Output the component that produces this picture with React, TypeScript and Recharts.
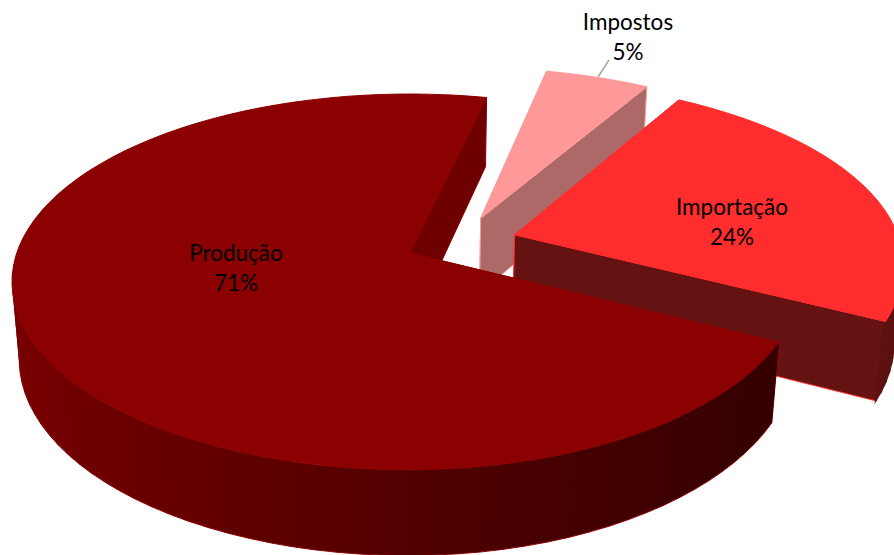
import React from 'react'
import { PieChart, Pie, Cell } from 'recharts'

const names = ['Impostos', 'Importação', 'Produção']
const shares = [5, 24, 71]
const fills = ['#ff9999', '#ff2d2d', '#8b0000']
const wallShades = [0.68, 0.396, 0.79]

const data = names.map((name, i) => ({ name, value: shares[i] }))

// perspective fitted on the reference: unit circle -> screen
const RX = 393
const RY = 183.5
const TILT = 0.1543
const DEPTH = 78
const DEPTH_W = 0.018
const EXPLODE = 0.145
const OFFSET_U = 0.131
const OFFSET_V = 0.061

const RAD = Math.PI / 180

const labelSpots: Record<string, [number, number]> = {
  Impostos: [628, 30],
  Importação: [732, 215],
  Produção: [236, 261],
}

function shade(hex: string, f: number) {
  const n = parseInt(hex.slice(1), 16)
  const r = Math.round(((n >> 16) & 255) * f)
  const g = Math.round(((n >> 8) & 255) * f)
  const b = Math.round((n & 255) * f)
  return `rgb(${r},${g},${b})`
}

function Slice3D(props: any) {
  const { cx, cy, startAngle, endAngle, midAngle, fill, index } = props
  const mid = midAngle * RAD
  const centerU = OFFSET_U + EXPLODE * Math.cos(mid)
  const centerV = OFFSET_V + EXPLODE * Math.sin(mid)

  const project = (u: number, v: number, z: number) => {
    const w = 1 + TILT * v + DEPTH_W * z
    return [cx + (RX * u) / w, cy + (-RY * v + DEPTH * z) / w]
  }
  const rimPoint = (deg: number, z: number) => {
    // the reference's rim runs a little short towards the lower right
    const bump = Math.max(0, Math.cos((deg + 27) * RAD))
    const r = 1 - 0.016 * bump ** 4
    return project(centerU + r * Math.cos(deg * RAD), centerV + r * Math.sin(deg * RAD), z)
  }
  const toPath = (pts: number[][], close = true) =>
    'M' + pts.map((p) => `${p[0].toFixed(1)},${p[1].toFixed(1)}`).join('L') + (close ? 'Z' : '')

  const steps = Math.max(2, Math.ceil(Math.abs(endAngle - startAngle) / 3))
  const angles: number[] = []
  for (let i = 0; i <= steps; i++) {
    angles.push(startAngle + ((endAngle - startAngle) * i) / steps)
  }
  const isFront = (deg: number) => Math.sin(deg * RAD) < 0

  const wallFill = shade(fill, wallShades[index])
  const apexTop = project(centerU, centerV, 0)
  const apexLow = project(centerU, centerV, 1)
  const wall = (deg: number) =>
    toPath([apexTop, rimPoint(deg, 0), rimPoint(deg, 1), apexLow])

  // only the part of the rim that faces the viewer, each band runs under the next
  const quads = angles
    .slice(1)
    .map((deg, i) => {
      const prev = angles[i]
      const u = Math.cos(((deg + prev) / 2) * RAD)
      const f = u < 0 ? 0.58 - 0.29 * u : 0.58 - 0.235 * u
      const over = deg + (endAngle < startAngle ? -1 : 1)
      return {
        front: isFront((deg + prev) / 2),
        d: toPath([rimPoint(prev, 0), rimPoint(over, 0), rimPoint(over, 1), rimPoint(prev, 1)]),
        color: shade(fill, f),
      }
    })
    .filter((q) => q.front)

  return (
    <g>
      <path d={wall(startAngle)} fill={wallFill} stroke={fill} strokeWidth={1} />
      <path d={wall(endAngle)} fill={wallFill} stroke={fill} strokeWidth={1} />
      {quads.map((q, i) => (
        <path key={i} d={q.d} fill={q.color} />
      ))}
      {index === 2 && (
        <path
          d={toPath(angles.filter(isFront).map((a) => rimPoint(a, 1)), false)}
          fill='none'
          stroke={fill}
          strokeWidth={1}
        />
      )}
      <path
        d={toPath([apexTop, ...angles.map((a) => rimPoint(a, 0))])}
        fill={fill}
        stroke={fill}
        strokeWidth={1}
      />
    </g>
  )
}

function SliceLabel(props: any) {
  const { name, value } = props
  const [x, y] = labelSpots[name]
  return (
    <g>
      {name === 'Impostos' && (
        <line x1={609} y1={60} x2={598} y2={77} stroke='#a6a6a6' strokeWidth={1.5} />
      )}
      <text x={x} y={y} textAnchor='middle' fontFamily='Lato' fontSize={22.5} fill='#000'>
        {name}
      </text>
      <text x={x} y={y + 30} textAnchor='middle' fontFamily='Lato' fontSize={22.5} fill='#000'>
        {`${value}%`}
      </text>
    </g>
  )
}

export default function App() {
  return (
    <div style={{ position: 'absolute', left: 0, top: 0, width: 894, height: 555, background: '#fff', overflow: 'hidden' }}>
      <PieChart width={894} height={555} margin={{ top: 0, right: 0, bottom: 0, left: 0 }}>
        <Pie
          data={data}
          dataKey='value'
          nameKey='name'
          cx={410}
          cy={253}
          innerRadius={0}
          outerRadius={100}
          startAngle={77}
          endAngle={-283}
          isAnimationActive={false}
          shape={Slice3D}
          label={SliceLabel}
          labelLine={false}
        >
          {fills.map((c) => (
            <Cell key={c} fill={c} />
          ))}
        </Pie>
      </PieChart>
    </div>
  )
}
